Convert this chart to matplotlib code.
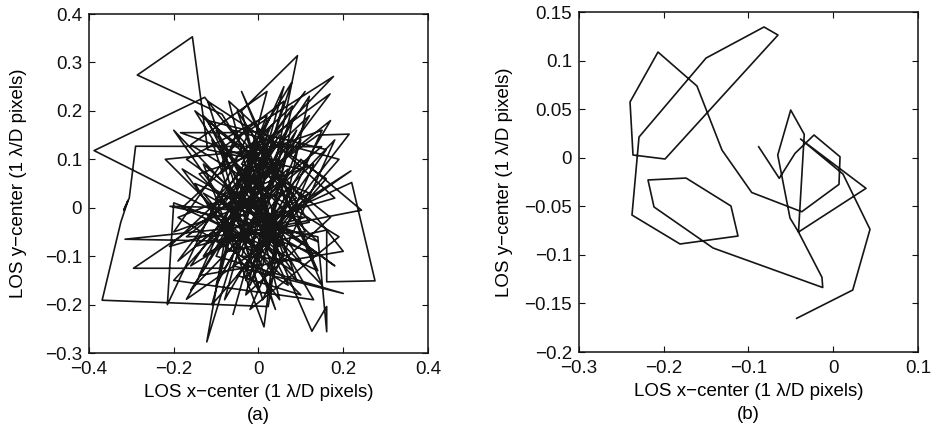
import matplotlib
matplotlib.use('Agg')
import matplotlib.pyplot as plt
from matplotlib.ticker import FuncFormatter

plt.rcParams['font.family'] = ['Liberation Sans', 'DejaVu Sans']

# (a) long LOS jitter record
left_x = [-0.03, 0.02, -0.06, 0.10, -0.12, -0.156, -0.286, -0.086, -0.02, 0.05,
          -0.04, 0.092, 0.03, -0.15, 0.11, -0.12, -0.388, -0.127, -0.03, 0.06,
          -0.10, 0.177, -0.04, -0.20, 0.08, -0.03, 0.02, -0.184, -0.051, -0.09,
          0.169, 0.07, 0.01, 0.214, 0.14, -0.05, 0.08, -0.12, 0.03, -0.08,
          0.243, 0.10, -0.07, 0.161, 0.161, 0.275, 0.22, 0.04, -0.15, 0.00,
          -0.09, 0.06, -0.01, 0.149, -0.29, -0.305, -0.318, -0.308, -0.325, -0.369,
          0.023, 0.05, -0.13, 0.013, 0.04, -0.17, -0.02, 0.126, 0.161, 0.161,
          0.14, -0.209, -0.028, 0.09, -0.06, 0.200, -0.10, 0.02, -0.122, -0.07,
          0.05, -0.16, 0.12, -0.04, 0.078, 0.00, -0.295, -0.08, 0.06, -0.10,
          0.03, 0.218, -0.02, -0.315, -0.04, 0.08, 0.01, -0.13, 0.13, -0.02,
          -0.215, -0.20,
          0.15, -0.18, 0.05, -0.07, 0.18, -0.21, 0.12, -0.10, 0.02, -0.16,
          0.19, -0.02, 0.13, -0.19, 0.07, -0.12, 0.16, -0.05, 0.10, -0.22,
          0.01, 0.20, -0.14, 0.06, -0.08, 0.17, -0.17, 0.11, -0.04, 0.15,
          -0.20, 0.03, 0.12, -0.13, 0.09, -0.06, 0.19, -0.11, 0.00, 0.14,
          -0.18, 0.08, -0.03, 0.17, -0.15, 0.05, -0.09, 0.13, -0.20, 0.10,
          -0.01, 0.16, -0.12, 0.04, -0.07, 0.18, -0.17, 0.02, -0.10, 0.12,
          -0.05, 0.09, -0.14, 0.15, -0.02, 0.07, -0.19, 0.11, -0.08, 0.14,
          -0.11, 0.01, 0.18, -0.16, 0.06, -0.04, 0.10, -0.13, 0.03, -0.06]
left_y = [0.06, 0.18, -0.03, 0.08, 0.12, 0.353, 0.274, 0.193, 0.10, -0.10,
          0.20, 0.314, 0.05, -0.08, -0.02, 0.00, 0.118, 0.228, 0.12, -0.10,
          0.02, 0.271, 0.15, -0.05, 0.04, -0.15, 0.09, 0.155, 0.155, 0.07,
          0.235, 0.12, -0.08, 0.152, 0.15, 0.03, -0.13, -0.02, 0.17, -0.06,
          -0.005, 0.10, -0.09, -0.046, -0.153, -0.151, 0.052, -0.02, 0.05, -0.17,
          0.12, 0.22, 0.01, 0.126, 0.127, 0.02, -0.005, 0.015, -0.03, -0.191,
          -0.204, -0.05, 0.09, -0.246, -0.06, -0.189, 0.04, -0.255, -0.204, -0.256,
          -0.06, 0.003, -0.001, 0.16, -0.12, -0.177, -0.10, 0.13, -0.277, -0.02,
          0.15, -0.12, 0.03, 0.09, 0.258, 0.05, -0.125, -0.125, 0.07, 0.16,
          -0.03, 0.076, -0.07, -0.065, -0.04, 0.18, -0.12, 0.03, -0.10, 0.16,
          -0.20, 0.01,
          -0.10, 0.08, -0.19, 0.22, 0.02, -0.08, 0.19, -0.16, 0.24, 0.13,
          -0.06, -0.21, 0.09, -0.02, -0.16, 0.18, 0.12, -0.14, -0.18, 0.10,
          0.12, -0.09, -0.14, 0.25, -0.19, 0.18, -0.06, -0.05, 0.24, -0.16,
          0.16, -0.13, 0.23, -0.10, 0.02, 0.16, 0.10, -0.20, 0.15, -0.13,
          0.00, 0.21, -0.18, -0.02, 0.20, -0.08, 0.14, -0.19, -0.15, 0.14,
          -0.11, 0.06, 0.22, -0.21, 0.04, -0.12, 0.10, 0.19, -0.07, -0.03,
          0.20, -0.15, 0.07, 0.16, -0.16, 0.08, -0.11, 0.24, 0.01, -0.07,
          0.14, -0.19, 0.14, -0.17, 0.13, -0.10, -0.11, 0.19, 0.06, -0.22]

# (b) short LOS jitter record
right_x = [-0.088, -0.0637, -0.0451, -0.0227, 0.0080, 0.0068, -0.0372, -0.0962,
           -0.1313, -0.1608, -0.2068, -0.2398, -0.2363, -0.1985, -0.0652, -0.0817,
           -0.1501, -0.2292, -0.2375, -0.1808, -0.1124, -0.1207, -0.1737, -0.2186,
           -0.2115, -0.1419, -0.0124, -0.0133, -0.0410, -0.0510, -0.0655, -0.0502,
           -0.0342, -0.0410, 0.0387, -0.0386, 0.0115, 0.0434, 0.0230, -0.0431]
right_y = [0.0113, -0.0212, 0.0045, 0.0234, 0.0010, -0.0274, -0.0556, -0.0358,
           0.0079, 0.0738, 0.1088, 0.0574, 0.0028, -0.0013, 0.1263, 0.1346,
           0.1026, 0.0213, -0.0590, -0.0888, -0.0806, -0.0497, -0.0209, -0.0229,
           -0.0507, -0.0929, -0.1336, -0.1231, -0.0765, -0.0621, 0.0028, 0.0491,
           0.0241, -0.0765, -0.0315, 0.0193, -0.0168, -0.0737, -0.1362, -0.1653]

left_xticks = [-0.4, -0.2, 0, 0.2, 0.4]
left_yticks = [-0.3, -0.2, -0.1, 0, 0.1, 0.2, 0.3, 0.4]
right_xticks = [-0.3, -0.2, -0.1, 0, 0.1]
right_yticks = [-0.2, -0.15, -0.1, -0.05, 0, 0.05, 0.1, 0.15]

xlabel = 'LOS x\u2212center (1 \u03bb/D pixels)'
ylabel = 'LOS y\u2212center (1 \u03bb/D pixels)'


def fmt(v, pos):
    s = '%g' % round(v, 4)
    return s.replace('-', '\u2212')


def style_axes(ax, xticks, yticks, tag, ypad):
    ax.set_xlim(xticks[0], xticks[-1])
    ax.set_ylim(yticks[0], yticks[-1])
    ax.set_xticks(xticks)
    ax.set_yticks(yticks)
    ax.xaxis.set_major_formatter(FuncFormatter(fmt))
    ax.yaxis.set_major_formatter(FuncFormatter(fmt))
    ax.tick_params(direction='in', top=True, right=True, length=4, width=0.8,
                   labelsize=13.5, colors='#111111')
    ax.tick_params(axis='x', pad=6)
    ax.tick_params(axis='y', pad=5)
    for sp in ax.spines.values():
        sp.set_linewidth(1.1)
        sp.set_color('#111111')
    ax.set_xlabel(xlabel + '\n' + tag, fontsize=13.5, linespacing=1.5, labelpad=4)
    ax.set_ylabel(ylabel, fontsize=13.5, labelpad=ypad)


fig = plt.figure(figsize=(9.33, 4.34), dpi=100)
ax1 = fig.add_axes([0.0954, 0.1866, 0.3633, 0.7811])
ax2 = fig.add_axes([0.6206, 0.1889, 0.3633, 0.7834])

ax1.plot(left_x, left_y, color='#151515', lw=1.2)
style_axes(ax1, left_xticks, left_yticks, '(a)', 13)

ax2.plot(right_x, right_y, color='#151515', lw=1.2)
style_axes(ax2, right_xticks, right_yticks, '(b)', 8)

fig.savefig('out.png', dpi=100)
